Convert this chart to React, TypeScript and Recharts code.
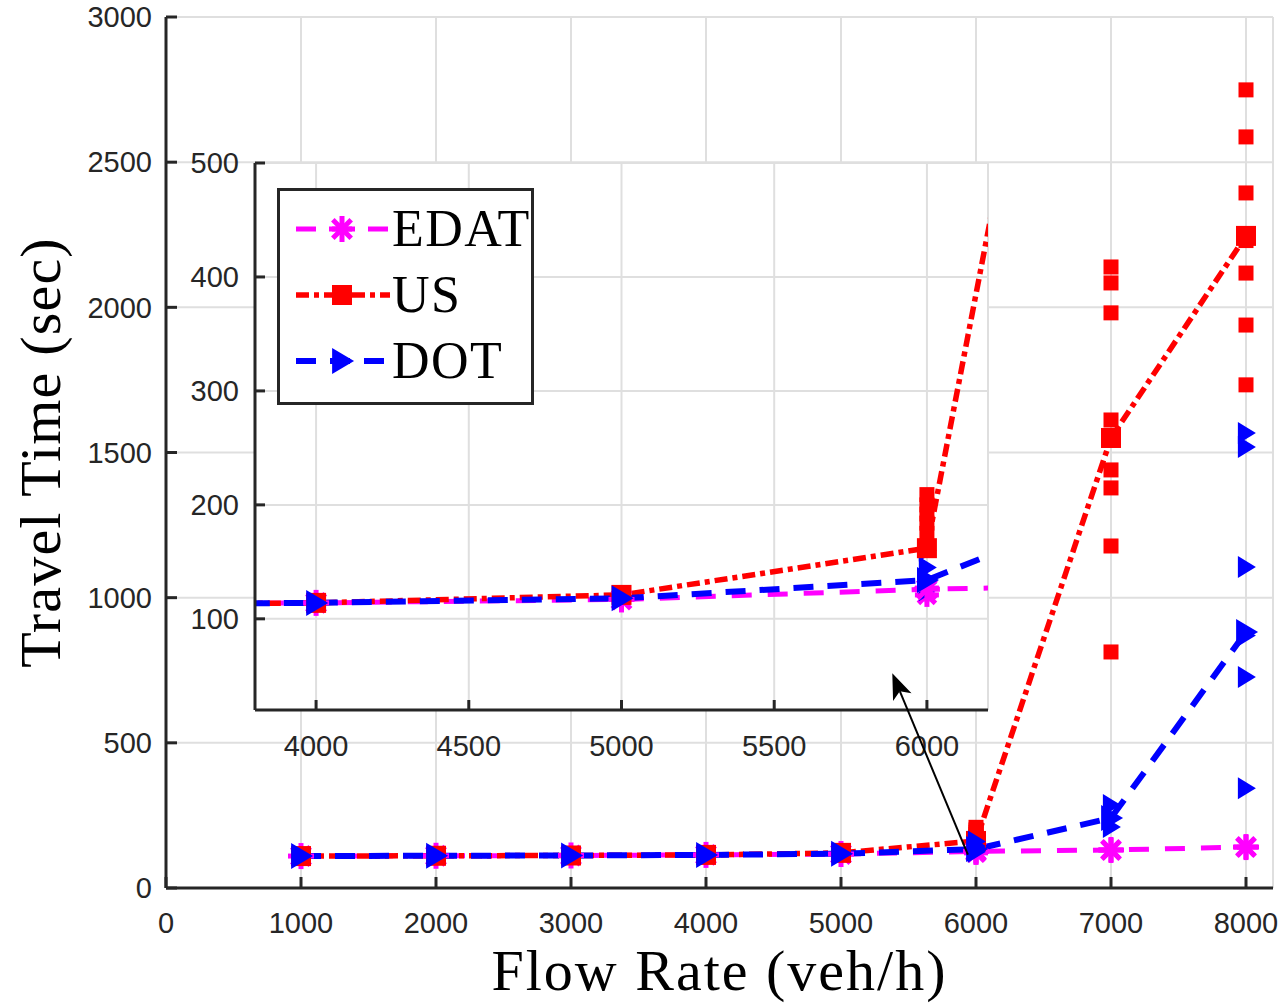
import React from 'react'
import {
  ComposedChart,
  Line,
  Scatter,
  XAxis,
  YAxis,
  CartesianGrid,
  Legend,
  ReferenceLine,
} from 'recharts'

// mean travel time per flow rate
const flowRates = [1000, 2000, 3000, 4000, 5000, 6000, 7000, 8000]
const edatMean = [110, 111, 112, 114, 117, 126, 131, 141]
const usMean = [110, 111, 112, 114, 121, 162, 1550, 2246]
const dotMean = [110, 111, 112, 114, 118, 134, 241, 882]

// individual runs: [flow rate, travel times]
const edatRuns: [number, number[]][] = [
  [6000, [127, 121]],
  [7000, [131]],
  [8000, [141]],
]
const usRuns: [number, number[]][] = [
  [6000, [209, 200, 192, 184, 175]],
  [7000, [2139, 2084, 1981, 1612, 1440, 1378, 1178, 813]],
  [8000, [2749, 2587, 2394, 2230, 2118, 1939, 1733]],
]
const dotRuns: [number, number[]][] = [
  [6000, [160, 145, 131, 125]],
  [7000, [286, 241, 210]],
  [8000, [1567, 1519, 1106, 870, 727, 344]],
]

const mainXTicks = [0, 1000, 2000, 3000, 4000, 5000, 6000, 7000, 8000]
const mainYTicks = [0, 500, 1000, 1500, 2000, 2500, 3000]
const insetXTicks = [4000, 4500, 5000, 5500, 6000]
const insetYTicks = [100, 200, 300, 400, 500]

// arrow from the 6000 cluster up to the zoomed view
const arrowTail = { x: 5940, y: 115 }
const arrowHead = { x: 5380, y: 740 }

const FONT_SANS = '"Liberation Sans", Arial, Helvetica, sans-serif'
const FONT_SERIF = '"Liberation Serif", "DejaVu Serif", serif'
const AXIS = '#262626'
const GRID = '#dfdfdf'

type MarkerKind = 'asterisk' | 'square' | 'triangle'

const toPoints = (ys: number[]) => flowRates.map((x, i) => ({ x, y: ys[i] }))
const runPoints = (runs: [number, number[]][]) =>
  runs.flatMap(([x, ys]) => ys.map(y => ({ x, y })))

const series = [
  { name: 'EDAT', mean: edatMean, runs: edatRuns, color: '#ff00ff', dash: '20 16', width: 5, marker: 'asterisk' as MarkerKind },
  { name: 'US', mean: usMean, runs: usRuns, color: '#ff0000', dash: '13 5 5 5', width: 5.5, marker: 'square' as MarkerKind },
  { name: 'DOT', mean: dotMean, runs: dotRuns, color: '#0000ff', dash: '20 14', width: 6, marker: 'triangle' as MarkerKind },
]

function Marker({ kind, cx, cy, color, big }: { kind: MarkerKind; cx?: number; cy?: number; color: string; big?: boolean }) {
  if (cx == null || cy == null || Number.isNaN(cx) || Number.isNaN(cy)) return null
  if (kind === 'square') {
    const s = big ? 20 : 15
    return <rect x={cx - s / 2} y={cy - s / 2} width={s} height={s} fill={color} />
  }
  if (kind === 'triangle') {
    const w = big ? 22 : 18
    const h = big ? 26 : 22
    return (
      <polygon
        points={`${cx - w * 0.45},${cy - h / 2} ${cx - w * 0.45},${cy + h / 2} ${cx + w * 0.55},${cy}`}
        fill={color}
      />
    )
  }
  const r = big ? 13 : 12
  return (
    <g>
      {[0, 45, 90, 135].map(a => {
        const dx = r * Math.cos((a * Math.PI) / 180)
        const dy = r * Math.sin((a * Math.PI) / 180)
        return (
          <line key={a} x1={cx - dx} y1={cy - dy} x2={cx + dx} y2={cy + dy} stroke={color} strokeWidth={5} />
        )
      })}
      <circle cx={cx} cy={cy} r={6} fill={color} />
    </g>
  )
}

function LegendBox() {
  return (
    <div
      style={{
        boxSizing: 'border-box',
        width: 257,
        height: 217,
        border: `3px solid ${AXIS}`,
        background: '#fff',
        paddingTop: 5,
      }}
    >
      {series.map(s => (
        <div key={s.name} style={{ display: 'flex', alignItems: 'center', height: 66 }}>
          <svg width={96} height={40} style={{ marginLeft: 16, flex: 'none' }}>
            <line x1={0} y1={20} x2={94} y2={20} stroke={s.color} strokeWidth={s.width} strokeDasharray={s.dash} />
            <Marker kind={s.marker} cx={46} cy={20} color={s.color} big />
          </svg>
          <span style={{ fontFamily: FONT_SERIF, fontSize: 52, lineHeight: '52px', letterSpacing: 1.5, color: '#000' }}>{s.name}</span>
        </div>
      ))}
    </div>
  )
}

const tickStyle = { fill: AXIS, fontSize: 29, fontFamily: FONT_SANS }
const lineStyle = { stroke: AXIS, strokeWidth: 3 }

function renderSeries(prefix: string) {
  return series.flatMap(s => [
    <Line
      key={`${prefix}-${s.name}-line`}
      data={toPoints(s.mean)}
      dataKey="y"
      name={s.name}
      stroke={s.color}
      strokeWidth={s.width}
      strokeDasharray={s.dash}
      dot={(p: any) => <Marker key={`${prefix}-${s.name}-d${p.index}`} kind={s.marker} cx={p.cx} cy={p.cy} color={s.color} big />}
      activeDot={false}
      isAnimationActive={false}
      legendType="none"
    />,
    <Scatter
      key={`${prefix}-${s.name}-runs`}
      data={runPoints(s.runs)}
      dataKey="y"
      name={`${s.name} runs`}
      shape={(p: any) => <Marker kind={s.marker} cx={p.cx} cy={p.cy} color={s.color} />}
      isAnimationActive={false}
      legendType="none"
    />,
  ])
}

function ArrowShape(props: any) {
  const { x1, y1, x2, y2 } = props
  const ang = Math.atan2(y2 - y1, x2 - x1)
  const len = 26
  const half = 10
  const bx = x2 - len * Math.cos(ang)
  const by = y2 - len * Math.sin(ang)
  const nx = -Math.sin(ang)
  const ny = Math.cos(ang)
  const notchX = x2 - len * 0.75 * Math.cos(ang)
  const notchY = y2 - len * 0.75 * Math.sin(ang)
  return (
    <g>
      <line x1={x1} y1={y1} x2={notchX} y2={notchY} stroke="#000" strokeWidth={2} />
      <polygon
        points={`${x2},${y2} ${bx + nx * half},${by + ny * half} ${notchX},${notchY} ${bx - nx * half},${by - ny * half}`}
        fill="#000"
      />
    </g>
  )
}

export default function App() {
  return (
    <div style={{ position: 'absolute', left: 0, top: 0, width: 1283, height: 1004, background: '#fff', overflow: 'hidden' }}>
      {/* main chart */}
      <div style={{ position: 'absolute', left: 0, top: 0 }}>
        <ComposedChart width={1283} height={1004} margin={{ top: 17, right: 10, bottom: 0, left: 0 }}>
          <CartesianGrid stroke={GRID} strokeWidth={2} />
          <XAxis
            dataKey="x"
            type="number"
            domain={[0, 8200]}
            ticks={mainXTicks}
            interval={0}
            allowDataOverflow
            height={116}
            tickSize={-11}
            tickMargin={35}
            axisLine={lineStyle}
            tickLine={lineStyle}
            tick={tickStyle}
            label={{ value: 'Flow Rate (veh/h)', position: 'insideBottom', offset: 14, fill: '#000', fontSize: 58, fontFamily: FONT_SERIF, letterSpacing: 2 }}
          />
          <XAxis
            xAxisId="top"
            orientation="top"
            type="number"
            domain={[0, 8200]}
            ticks={mainXTicks}
            interval={0}
            allowDataOverflow
            height={0}
            tickSize={-11}
            axisLine={lineStyle}
            tickLine={lineStyle}
            tick={false}
          />
          <YAxis
            type="number"
            domain={[0, 3000]}
            ticks={mainYTicks}
            interval={0}
            allowDataOverflow
            width={166}
            tickSize={-11}
            tickMargin={25}
            axisLine={lineStyle}
            tickLine={lineStyle}
            tick={tickStyle}
            label={({ viewBox }: any) => {
              const cx = viewBox.x + 60
              const cy = viewBox.y + viewBox.height / 2
              return (
                <text x={cx} y={cy} transform={`rotate(-90 ${cx} ${cy})`} textAnchor="middle" fontSize={58} fontFamily={FONT_SERIF} letterSpacing={1.2} fill="#000">
                  Travel Time (sec)
                </text>
              )
            }}
          />
          <YAxis
            yAxisId="right"
            orientation="right"
            type="number"
            domain={[0, 3000]}
            ticks={mainYTicks}
            interval={0}
            allowDataOverflow
            width={0}
            tickSize={-11}
            axisLine={lineStyle}
            tickLine={lineStyle}
            tick={false}
          />
          {renderSeries('main')}
        </ComposedChart>
      </div>

      {/* zoomed inset */}
      <div style={{ position: 'absolute', left: 160, top: 140 }}>
        <ComposedChart width={840} height={640} margin={{ top: 23, right: 12, bottom: 0, left: 0 }}>
          <CartesianGrid stroke={GRID} strokeWidth={2} fill="#fff" fillOpacity={1} />
          <XAxis
            dataKey="x"
            type="number"
            domain={[3800, 6200]}
            ticks={insetXTicks}
            interval={0}
            allowDataOverflow
            height={70}
            tickSize={-10}
            tickMargin={35}
            axisLine={lineStyle}
            tickLine={lineStyle}
            tick={tickStyle}
          />
          <XAxis
            xAxisId="top"
            orientation="top"
            type="number"
            domain={[3800, 6200]}
            ticks={insetXTicks}
            interval={0}
            allowDataOverflow
            height={0}
            tickSize={-10}
            axisLine={lineStyle}
            tickLine={lineStyle}
            tick={false}
          />
          <YAxis
            type="number"
            domain={[20, 500]}
            ticks={insetYTicks}
            interval={0}
            allowDataOverflow
            width={95}
            tickSize={-10}
            tickMargin={26}
            axisLine={lineStyle}
            tickLine={lineStyle}
            tick={tickStyle}
          />
          <YAxis
            yAxisId="right"
            orientation="right"
            type="number"
            domain={[20, 500]}
            ticks={insetYTicks}
            interval={0}
            allowDataOverflow
            width={0}
            tickSize={-10}
            axisLine={lineStyle}
            tickLine={lineStyle}
            tick={false}
          />
          {renderSeries('inset')}
          <Legend
            layout="vertical"
            align="center"
            verticalAlign="middle"
            content={() => <LegendBox />}
            wrapperStyle={{ left: 117, top: 48, width: 'auto', height: 'auto' }}
          />
        </ComposedChart>
      </div>

      {/* arrow overlay, same scales as the main chart */}
      <div style={{ position: 'absolute', left: 0, top: 0, pointerEvents: 'none' }}>
        <ComposedChart width={1283} height={1004} margin={{ top: 17, right: 10, bottom: 116, left: 166 }}>
          <XAxis dataKey="x" type="number" domain={[0, 8200]} allowDataOverflow hide />
          <YAxis type="number" domain={[0, 3000]} allowDataOverflow hide />
          <ReferenceLine
            segment={[arrowTail, arrowHead]}
            ifOverflow="visible"
            shape={(p: any) => <ArrowShape {...p} />}
          />
        </ComposedChart>
      </div>
    </div>
  )
}
